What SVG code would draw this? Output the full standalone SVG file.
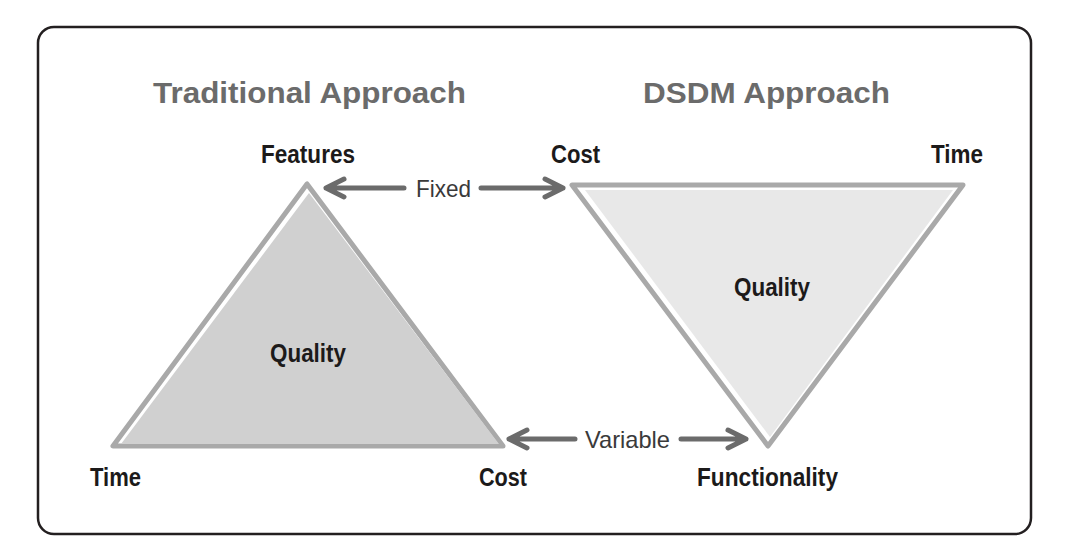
<svg xmlns="http://www.w3.org/2000/svg" width="1065" height="560" viewBox="0 0 1065 560">
<style>
.title{font-family:"Liberation Sans",Arial,sans-serif;font-size:29px;fill:#6b6b6b;font-weight:bold}
.lbl{font-family:"Liberation Sans",Arial,sans-serif;font-size:25px;font-weight:bold;fill:#1c1a1a}
.conn-lbl{font-family:"Liberation Sans",Arial,sans-serif;font-size:24px;fill:#3a3a3a}
.outline{fill:#ffffff;stroke:#a9a9a9;stroke-width:5;stroke-linejoin:round}
.arrow{fill:none;stroke:#6b6b6b;stroke-width:5;stroke-linecap:round;stroke-linejoin:round}
</style>
<rect x="0" y="0" width="1065" height="560" fill="#ffffff"/>
<rect id="frame" x="38" y="27" width="993" height="507" rx="16" ry="16" fill="#ffffff" stroke="#231f20" stroke-width="2.5"/>
<text class="title" x="153" y="103" textLength="313" lengthAdjust="spacingAndGlyphs">Traditional Approach</text>
<text class="title" x="643" y="103" textLength="247" lengthAdjust="spacingAndGlyphs">DSDM Approach</text>
<g id="traditional">
<polygon class="outline" points="307,184 113,446 503,446"/>
<polygon fill="#d0d0d0" points="309,193 121,444 499,444"/>
<text class="lbl" x="308" y="362" text-anchor="middle" textLength="76" lengthAdjust="spacingAndGlyphs">Quality</text>
</g>
<g id="features"><text class="lbl" x="261" y="163" textLength="94" lengthAdjust="spacingAndGlyphs">Features</text></g>
<g id="trad-time"><text class="lbl" x="90" y="486" textLength="51" lengthAdjust="spacingAndGlyphs">Time</text></g>
<g id="trad-cost"><text class="lbl" x="479" y="486" textLength="48" lengthAdjust="spacingAndGlyphs">Cost</text></g>
<g id="dsdm">
<polygon class="outline" points="572,185 963,185 768,446"/>
<polygon fill="#e8e8e8" points="585,190 953,190 770,437"/>
<text class="lbl" x="772" y="296" text-anchor="middle" textLength="76" lengthAdjust="spacingAndGlyphs">Quality</text>
</g>
<g id="dsdm-cost"><text class="lbl" x="551" y="163" textLength="49" lengthAdjust="spacingAndGlyphs">Cost</text></g>
<g id="dsdm-time"><text class="lbl" x="931" y="163" textLength="52" lengthAdjust="spacingAndGlyphs">Time</text></g>
<g id="functionality"><text class="lbl" x="697" y="486" textLength="141" lengthAdjust="spacingAndGlyphs">Functionality</text></g>
<g id="connectors">
<path class="arrow" d="M326,188 H404 M344,179 L326,188 L344,197"/>
<path class="arrow" d="M481,188 H563 M545,179 L563,188 L545,197"/>
<text class="conn-lbl" x="416" y="197" textLength="55" lengthAdjust="spacingAndGlyphs">Fixed</text>
<path class="arrow" d="M509,439 H575 M527,430 L509,439 L527,448"/>
<path class="arrow" d="M681,439 H746 M728,430 L746,439 L728,448"/>
<text class="conn-lbl" x="585" y="448" textLength="85" lengthAdjust="spacingAndGlyphs">Variable</text>
</g>
</svg>
